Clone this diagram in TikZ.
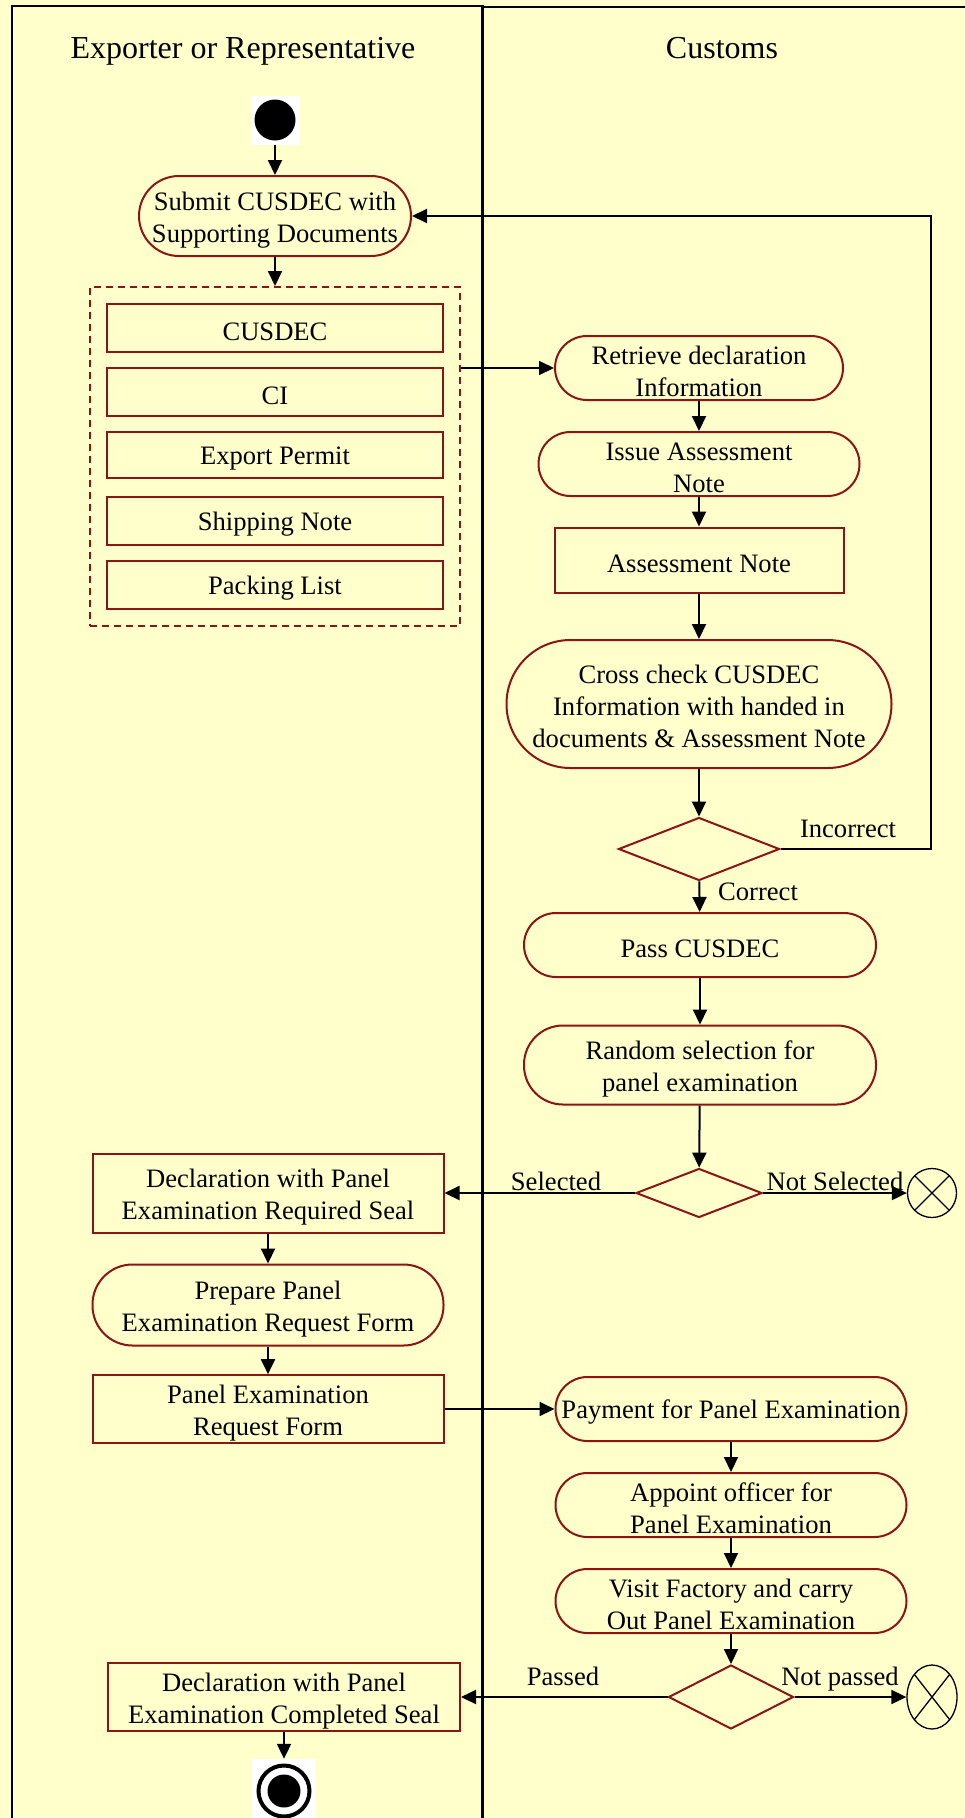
\documentclass[tikz,border=0pt]{standalone}
\usepackage{fontspec}
\setmainfont{Liberation Serif}
\usepackage{xcolor}
\usepackage{tikz}
\usetikzlibrary{positioning, shapes, arrows.meta, calc, fit, backgrounds}
\usetikzlibrary{shapes.geometric}

\definecolor{lanebg}{RGB}{255,255,204}
\definecolor{nodered}{RGB}{140,20,20}

\newcommand{\actfont}{\fontsize{26.6}{32}\selectfont}
\newcommand{\lanefont}{\fontsize{32}{38}\selectfont}

\tikzset{
    rowstrut/.style={execute at begin node={\rule{0pt}{#1}}},
    actbox/.style={draw=nodered, line width=2pt, rectangle, rounded corners=32pt,
        minimum width=351pt, minimum height=64pt, inner sep=2pt, align=center, font=\actfont,
        rowstrut=25pt},
    docbox/.style={draw=nodered, line width=2pt, rectangle,
        minimum width=351pt, minimum height=65pt, inner sep=2pt, align=center, font=\actfont,
        rowstrut=25pt},
    twolines/.style={rowstrut=58pt},
    threelines/.style={rowstrut=88pt},
    docset/.style={draw=nodered, line width=2pt, dash pattern=on 7pt off 5pt, inner sep=16pt},
    decision/.style={draw=nodered, line width=2pt, diamond, minimum width=126pt,
        minimum height=49pt, inner sep=0pt},
    startnode/.style={rectangle, fill=white, minimum size=49pt, inner sep=0pt,
        path picture={\fill[black] (path picture bounding box.center) circle[radius=20.5pt];}},
    endnode/.style={rectangle, fill=white, minimum size=64pt, inner sep=0pt,
        path picture={\draw[line width=4pt] (path picture bounding box.center) circle[radius=25.5pt];
                      \fill[black] (path picture bounding box.center) circle[radius=16.5pt];}},
    flowend/.style={draw, circle, line width=1.3pt, minimum size=49pt, inner sep=0pt,
        path picture={\draw[line width=1.3pt] (path picture bounding box.north west) -- (path picture bounding box.south east)
                      (path picture bounding box.north east) -- (path picture bounding box.south west);}},
    lanehead/.style={font=\lanefont, inner sep=0pt, anchor=base},
    lbl/.style={font=\actfont, inner sep=0pt, anchor=base},
    flow/.style={line width=2pt, -{Triangle[length=15pt, width=14pt]}}
}

\begin{document}
\begin{tikzpicture}[x=1pt, y=-1pt]
    % page and swimlanes
    \clip (0,0) rectangle (965,1818);
    \fill[lanebg] (0,0) rectangle (965,1818);
    \draw[line width=1.5pt] (12,1822) -- (12,6) -- (482,6);
    \draw[line width=2pt] (482,7) -- (968,7);
    \draw[line width=3pt] (482,1822) -- (482,5);
    \node[lanehead] (exporter) at (243,58) {Exporter or Representative};
    \node[lanehead] (customs) at (722,58) {Customs};

    % exporter or representative
    \node[startnode] (start) at (275,120) {};
    \node[actbox, twolines, minimum width=272pt, minimum height=80pt, rounded corners=40pt] (submit) at (275,216) {Submit CUSDEC with\\Supporting Documents};
    \node[docbox, minimum width=336pt, minimum height=48pt] (cusdec) at (275,328) {CUSDEC};
    \node[docbox, minimum width=336pt, minimum height=48pt] (ci) at (275,392) {CI};
    \node[docbox, minimum width=336pt, minimum height=46pt] (permit) at (275,455) {Export Permit};
    \node[docbox, minimum width=336pt, minimum height=48pt] (shipnote) at (275,521) {Shipping Note};
    \node[docbox, minimum width=336pt, minimum height=48pt] (packing) at (275,585) {Packing List};
    \node[docset, fit=(cusdec) (packing)] (docs) {};
    \node[docbox, twolines, minimum height=79pt] (reqseal) at (268,1193) {Declaration with Panel\\Examination Required Seal};
    \node[actbox, twolines, minimum height=81pt, rounded corners=40pt] (prepare) at (268,1305) {Prepare Panel\\Examination Request Form};
    \node[docbox, twolines] (reqform) at (268,1409) {Panel Examination\\Request Form};
    \node[docbox, twolines, minimum width=352pt] (doneseal) at (284,1697) {Declaration with Panel\\Examination Completed Seal};
    \node[endnode] (finish) at (284,1791) {};

    % customs
    \node[actbox, twolines, minimum width=288pt] (retrieve) at (699,368) {Retrieve declaration\\Information};
    \node[actbox, twolines, minimum width=321pt] (issue) at (699,464) {Issue Assessment\\Note};
    \node[docbox, minimum width=289pt] (anote) at (699,560) {Assessment Note};
    \node[actbox, threelines, minimum width=385pt, minimum height=128pt, rounded corners=64pt] (crosscheck) at (699,704) {Cross check CUSDEC\\Information with handed in\\documents \& Assessment Note};
    \node[decision, minimum width=161pt, minimum height=63pt] (checkok) at (699,849) {};
    \node[actbox, minimum width=352pt] (passdec) at (700,945) {Pass CUSDEC};
    \node[actbox, twolines, minimum width=352pt, minimum height=79pt, rounded corners=39pt] (random) at (700,1065) {Random selection for\\panel examination};
    \node[decision] (selq) at (699,1193) {};
    \node[flowend] (noexam) at (932,1193) {};
    \node[actbox] (payment) at (731,1409) {Payment for Panel Examination};
    \node[actbox, twolines] (appoint) at (731,1505) {Appoint officer for\\Panel Examination};
    \node[actbox, twolines] (visit) at (731,1601) {Visit Factory and carry\\Out Panel Examination};
    \node[decision, minimum width=125pt, minimum height=64pt] (passq) at (731,1697) {};
    \node[flowend, ellipse, minimum width=50pt, minimum height=64pt] (failexam) at (932,1697) {};

    % flows
    \draw[flow] (start) -- (submit);
    \draw[flow] (submit) -- (docs);
    \draw[flow] (docs.east |- retrieve.west) -- (retrieve.west);
    \draw[flow] (retrieve) -- (issue);
    \draw[flow] (issue) -- (anote);
    \draw[flow] (anote) -- (crosscheck);
    \draw[flow] (crosscheck) -- (checkok);
    \draw[flow] (checkok.east) -- ++(150,0) |- (submit.east);
    \draw[flow] (checkok) -- (passdec);
    \draw[flow] (passdec) -- (random);
    \draw[flow] (random) -- (selq);
    \draw[flow] (selq) -- (reqseal);
    \draw[flow] (selq) -- (noexam);
    \draw[flow] (reqseal) -- (prepare);
    \draw[flow] (prepare) -- (reqform);
    \draw[flow] (reqform) -- (payment);
    \draw[flow] (payment) -- (appoint);
    \draw[flow] (appoint) -- (visit);
    \draw[flow] (visit) -- (passq);
    \draw[flow] (passq) -- (doneseal);
    \draw[flow] (passq) -- (failexam);
    \draw[flow] (doneseal) -- (finish);

    % guard labels
    \node[lbl] (incorrect) at (848,837) {Incorrect};
    \node[lbl] (correct) at (758,900) {Correct};
    \node[lbl] (selected) at (556,1190) {Selected};
    \node[lbl] (notselected) at (835,1190) {Not Selected};
    \node[lbl] (passed) at (563,1685) {Passed};
    \node[lbl] (notpassed) at (840,1685) {Not passed};
\end{tikzpicture}
\end{document}
